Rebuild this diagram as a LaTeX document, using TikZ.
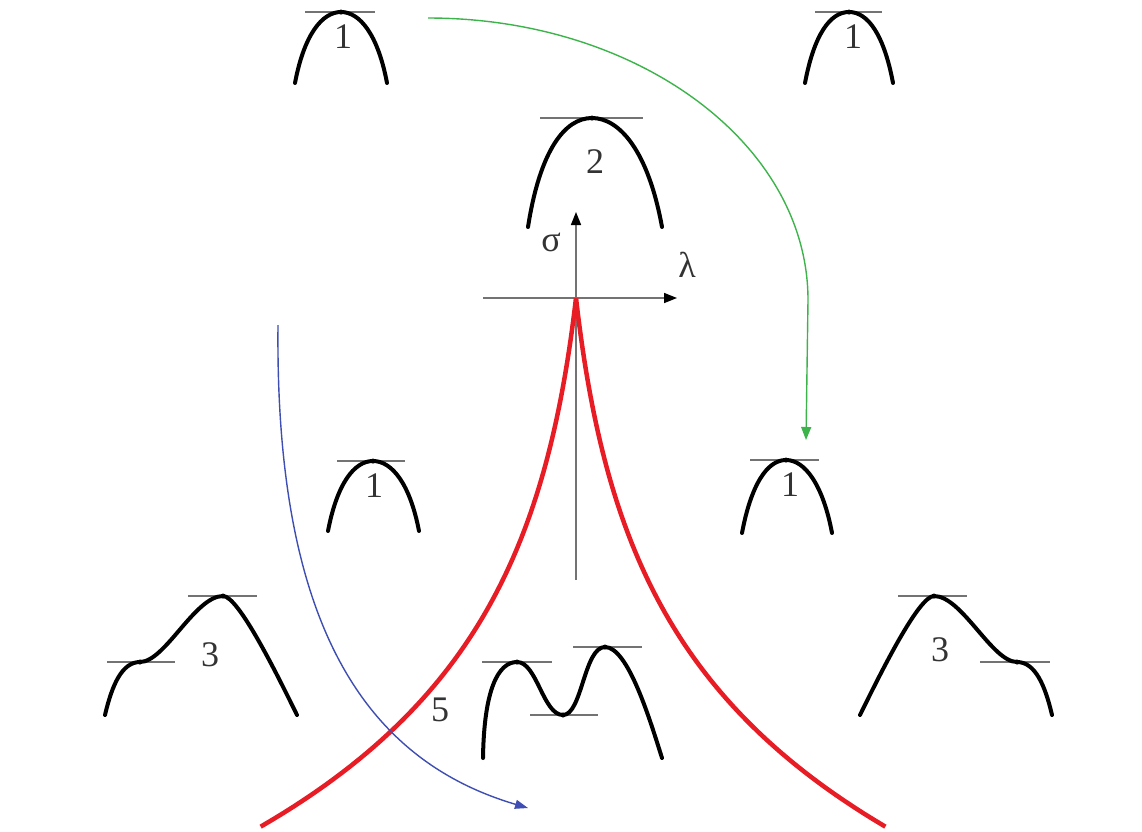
\documentclass[tikz,border=0pt]{standalone}
\usepackage{fontspec}
\setmainfont{Liberation Serif}
\usetikzlibrary{arrows.meta}
\definecolor{cuspRed}{RGB}{232,28,36}
\definecolor{pathGreen}{RGB}{60,180,75}
\definecolor{pathBlue}{RGB}{62,78,178}

\begin{document}
\begin{tikzpicture}[x=1pt,y=-1pt]
\fontsize{36}{42}\selectfont
  \tikzstyle{potential}=[line width=4pt,black,line cap=round]
  \tikzstyle{tangent}=[line width=1.6pt,black!55]
  \tikzstyle{stationary}=[fill=black,draw=none,circle,inner sep=0pt,minimum size=5pt]
  \tikzstyle{numStyle}=[text=black!80,inner sep=0pt]
  \tikzstyle{axis}=[line width=1.6pt,black!55,-{Triangle[length=13pt,width=10pt,color=black]}]
  \tikzstyle{cusp}=[line width=4.5pt,cuspRed]
  \tikzstyle{greenArrow}=[line width=1.4pt,pathGreen,-{Triangle[length=13pt,width=10pt]}]
  \tikzstyle{blueArrow}=[line width=1.4pt,pathBlue,-{Triangle[length=13pt,width=9pt]}]

\useasboundingbox (0,0) rectangle (1142,831);

  % top row
  \draw[tangent] (305,12) -- (375,12);
  \draw[potential] (295,83) .. controls (304,35) and (322,12) .. (341,12)
     .. controls (360,12) and (378,35) .. (387,83);
  \node[stationary](top1a) at (341,12) {};
  \node[numStyle](lab1a) at (343,37) {1};

  \draw[tangent] (815,12) -- (882,12);
  \draw[potential] (805,83) .. controls (814,35) and (830,12) .. (849,12)
     .. controls (868,12) and (884,35) .. (893,83);
  \node[stationary](top1b) at (849,12) {};
  \node[numStyle](lab1b) at (853,37) {1};

  \draw[tangent] (540,118) -- (643,118);
  \draw[potential] (528,227) .. controls (540,150) and (565,118) .. (592,118)
     .. controls (619,118) and (648,150) .. (662,227);
  \node[stationary](top2) at (592,118) {};
  \node[numStyle](lab2) at (595,162) {2};

  % axes
  \coordinate (o) at (576,298);
  \draw[axis] (576,580) -- (576,212);
  \draw[axis] (483,298) -- (677,298);
  \node[numStyle](sigma) at (551,242) {σ};
  \node[numStyle](lambda) at (687,265) {λ};

  % cusp
  \draw[cusp] plot[domain=0:1,samples=80,variable=\t] ({576-316*(exp(2.7*\t)-1)/13.88},{298+529*\t});
  \draw[cusp] plot[domain=0:1,samples=80,variable=\t] ({576+310*(exp(2.7*\t)-1)/13.88},{298+529*\t});

  % middle row
  \draw[tangent] (337,461) -- (405,461);
  \draw[potential] (328,531) .. controls (337,484) and (354,461) .. (373,461)
     .. controls (392,461) and (410,484) .. (419,531);
  \node[stationary](mid1a) at (373,461) {};
  \node[numStyle](lab1c) at (374,486) {1};

  \draw[tangent] (750,460) -- (819,460);
  \draw[potential] (742,533) .. controls (751,485) and (767,460) .. (786,460)
     .. controls (805,460) and (823,485) .. (832,533);
  \node[stationary](mid1b) at (786,460) {};
  \node[numStyle](lab1d) at (790,485) {1};

  % bottom row
  \draw[tangent] (107,662) -- (175,662);
  \draw[tangent] (188,596) -- (257,596);
  \draw[potential] (105,715) .. controls (112,685) and (122,662) .. (140,662)
     .. controls (165,662) and (195,596) .. (223,596)
     .. controls (238,596) and (275,670) .. (297,715);
  \node[stationary](shoulderL) at (140,662) {};
  \node[stationary](peakL) at (223,596) {};
  \node[numStyle](lab3a) at (210,655) {3};

  \draw[tangent] (898,596) -- (967,596);
  \draw[tangent] (980,662) -- (1050,662);
  \draw[potential] (860,715) .. controls (882,670) and (919,596) .. (934,596)
     .. controls (962,596) and (992,662) .. (1017,662)
     .. controls (1035,662) and (1045,685) .. (1052,715);
  \node[stationary](peakR) at (934,596) {};
  \node[stationary](shoulderR) at (1017,662) {};
  \node[numStyle](lab3b) at (940,650) {3};

  \draw[tangent] (482,662) -- (552,662);
  \draw[tangent] (530,715) -- (598,715);
  \draw[tangent] (573,647) -- (642,647);
  \draw[potential] (483,758) .. controls (484,690) and (498,662) .. (517,662)
     .. controls (537,662) and (543,715) .. (563,715)
     .. controls (582,715) and (584,647) .. (605,647)
     .. controls (628,647) and (650,720) .. (662,758);
  \node[stationary](peak5a) at (517,662) {};
  \node[stationary](valley5) at (563,715) {};
  \node[stationary](peak5b) at (605,647) {};
  \node[numStyle](lab5) at (440,710) {5};

  % paths
  \coordinate (gstart) at (428,18);
  \coordinate (gend) at (806,440);
  \draw[greenArrow] (gstart) .. controls (638,18) and (808,144) .. (808,300) -- (gend);

  \coordinate (bstart) at (278,325);
  \coordinate (bend) at (528,808);
  \draw[blueArrow] (bstart) .. controls (275,620) and (362,759) .. (bend);

\end{tikzpicture}
\end{document}
